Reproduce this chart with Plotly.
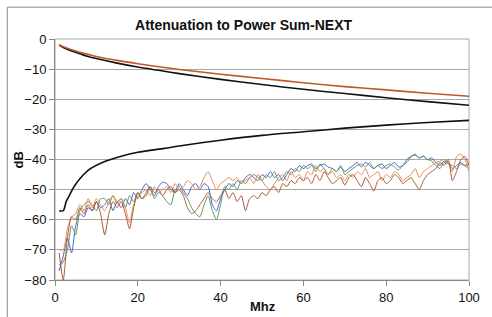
import plotly.graph_objects as go

# Smooth curves
curve_f = [1, 2, 4, 6, 8, 10, 15, 20, 25, 30, 40, 50, 60, 70, 80, 90, 100]
atten_black = [-2.0, -2.8, -4.0, -4.9, -5.8, -6.5, -8.0, -9.3, -10.4, -11.5, -13.4, -15.1, -16.7, -18.1, -19.5, -20.8, -22.0]
atten_orange = [-1.9, -2.6, -3.6, -4.4, -5.1, -5.8, -7.1, -8.2, -9.2, -10.1, -11.7, -13.1, -14.5, -15.8, -16.9, -18.0, -19.0]

limit_f = [1, 2, 2.7, 3.5, 4.3, 6, 8, 12, 16, 20, 26, 30, 40, 50, 60, 70, 80, 90, 100]
limit_db = [-57, -57, -54, -51.9, -49.7, -46.4, -43.6, -40.7, -38.9, -37.6, -36.4, -35.5, -33.6, -32.0, -30.8, -29.6, -28.6, -27.7, -27.0]

# Measured PS-NEXT traces, f = 1..100 MHz
freq = list(range(1, 101))
blue = [-77, -72, -66, -71, -62, -58, -59, -56, -57, -54,
        -56, -55, -53, -57, -54, -56, -53, -55, -51, -53,
        -50, -48, -50, -52, -49, -47.5, -48, -50, -51, -48,
        -50, -52, -49, -48, -50, -48, -49, -55, -57, -53,
        -50, -48, -49, -47, -48, -46, -45, -46, -47, -45,
        -46, -44, -46, -45, -47, -45, -43, -44, -42, -43,
        -42, -41.5, -43, -42, -41.5, -42.5, -43, -44, -42.5, -44,
        -43, -42, -41, -42.5, -41, -42, -43, -42, -41.5, -43,
        -42, -41, -42.5, -42, -40, -39, -38.5, -39.5, -39, -40,
        -39.5, -41, -42, -40.5, -41, -43, -42, -41, -42, -41.5]
green = [-75, -74, -70, -62, -65, -57, -55, -54, -55, -57,
         -53, -53, -55, -52, -54, -53, -56, -52, -54, -51,
         -53, -51, -49, -53, -51, -52, -54, -55, -50, -49,
         -51, -53, -56, -58, -59, -55, -52, -57, -60, -55,
         -49, -50, -48, -50, -47, -48, -46, -45, -46, -47,
         -45, -46, -44, -47, -46, -44, -45, -43, -44, -42,
         -43, -42, -44, -41.5, -43, -45, -43, -44, -42, -45,
         -44, -43, -42, -41.5, -42.5, -41, -43, -42, -43, -42,
         -41.5, -42.5, -43.5, -42, -41, -39, -38.2, -39.5, -38.8, -40,
         -40.5, -42, -43, -41, -41.5, -42, -43, -41.5, -42, -43]
orange = [-70, -70, -63, -59, -58, -55, -57, -53, -56, -53,
          -55, -57, -54, -52, -55, -53, -56, -61, -55, -52,
          -51, -50, -52, -49, -51, -50, -49, -51, -48, -50,
          -49, -47, -48, -50, -49, -46, -44, -47, -50, -48,
          -47, -46, -47, -46, -48, -47, -46, -48, -45, -47,
          -49, -50, -48, -46, -45, -47, -44, -46, -45, -47,
          -44, -45, -42, -44, -43, -45, -44, -46, -45, -47,
          -45, -46, -44, -45, -43, -46, -45, -44, -47, -45,
          -46, -44, -45, -47, -46, -45, -43, -46, -44, -43,
          -42, -41, -40.5, -40, -41, -44, -39, -38.2, -40, -44]
brown = [-71, -80, -66, -59, -60, -56, -58, -55, -57, -54,
         -58, -65, -58, -54, -56, -54, -58, -63, -56, -51,
         -53, -52, -49, -51, -50, -52, -50, -49, -51, -50,
         -52, -56, -58, -57, -55, -53, -51, -53, -54, -52,
         -50, -53, -51, -54, -52, -57, -53, -52, -53, -51,
         -52, -50, -49, -51, -48, -49, -47, -48, -46, -47,
         -46, -48, -45, -47, -44, -46, -48, -47, -46, -48.5,
         -46, -45, -47, -49, -46, -48, -50.5, -47, -46, -48,
         -47, -45, -46, -48, -47, -46, -48, -50, -47, -45,
         -44, -43, -41, -42, -40, -47, -44, -40, -39, -42]

x_ticks = [0, 20, 40, 60, 80, 100]
y_ticks = [-80, -70, -60, -50, -40, -30, -20, -10, 0]

fig = go.Figure()
for name, ys, col in [("blue", blue, "#4b5bd6"), ("green", green, "#5e9a5a"),
                      ("orange", orange, "#ee8a4e"), ("brown", brown, "#a95a35")]:
    fig.add_trace(go.Scatter(x=freq, y=ys, mode="lines", name=name,
                             line=dict(color=col, width=1, shape="spline", smoothing=0.6)))
fig.add_trace(go.Scatter(x=limit_f, y=limit_db, mode="lines", name="limit",
                         line=dict(color="#111111", width=1.6, shape="spline", smoothing=0.8)))
fig.add_trace(go.Scatter(x=curve_f, y=atten_black, mode="lines", name="atten",
                         line=dict(color="#111111", width=1.6, shape="spline", smoothing=0.8)))
fig.add_trace(go.Scatter(x=curve_f, y=atten_orange, mode="lines", name="atten2",
                         line=dict(color="#c0582a", width=1.6, shape="spline", smoothing=0.8)))

fig.update_layout(
    width=492, height=317,
    margin=dict(l=55, r=12, t=39, b=35),
    paper_bgcolor="white", plot_bgcolor="white",
    showlegend=False,
    font=dict(family="Liberation Sans, Arial, sans-serif", size=13, color="#111111"),
    title=dict(text="<b>Attenuation to Power Sum-NEXT</b>", x=0.495, xanchor="center",
               y=0.92, yanchor="middle", font=dict(size=14, color="#111111")),
    xaxis=dict(range=[0, 100], tickvals=x_ticks, ticks="outside", ticklen=5,
               tickcolor="#888888", showgrid=False, zeroline=False,
               showline=True, linecolor="#888888", linewidth=1,
               tickfont=dict(size=13)),
    yaxis=dict(range=[-80, 0], tickvals=y_ticks, ticks="outside", ticklen=5,
               tickcolor="#888888", showgrid=True, gridcolor="#a8a8a8", gridwidth=1,
               zeroline=False, showline=True, linecolor="#888888", linewidth=1,
               tickfont=dict(size=13)),
    shapes=[
        dict(type="rect", xref="paper", yref="paper", x0=0, x1=1, y0=0, y1=1,
             line=dict(color="#a8a8a8", width=1), layer="below"),
        dict(type="path", xref="paper", yref="paper",
             path="M -0.1153 -0.2 L -0.1153 1.132 L 1.2 1.132",
             line=dict(color="#888888", width=1), layer="above"),
    ],
    annotations=[
        dict(text="<b>dB</b>", xref="paper", yref="paper", x=-0.087, y=0.5,
             xanchor="center", yanchor="middle",
             textangle=-90, showarrow=False, font=dict(size=13)),
        dict(text="<b>Mhz</b>", xref="paper", yref="paper", x=0.502, y=-0.11,
             xanchor="center", yanchor="middle", showarrow=False, font=dict(size=13)),
    ],
)

fig.write_html("out.html", config={"displayModeBar": False},
               post_script="document.body.style.margin='0';")
